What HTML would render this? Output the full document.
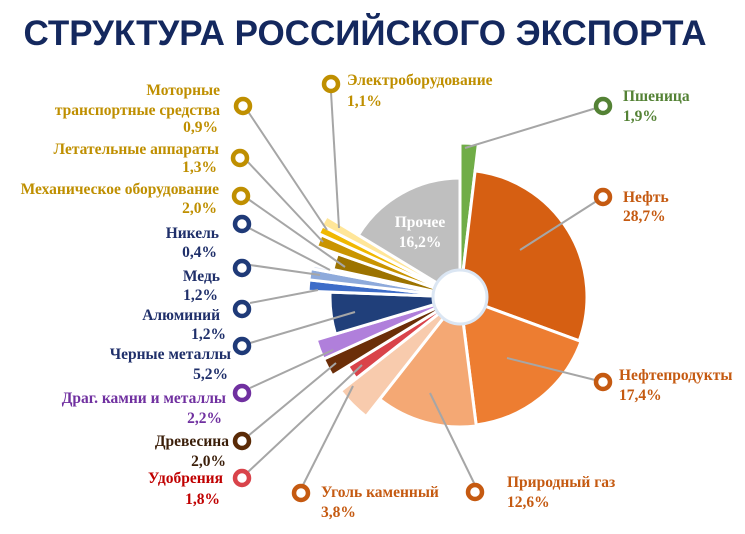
<!DOCTYPE html>
<html><head><meta charset="utf-8"><style>
html,body{margin:0;padding:0;background:#fff;width:745px;height:534px;overflow:hidden}
svg{display:block}
.t{font-family:"Liberation Serif","Noto Serif CJK SC",serif;font-weight:bold;font-size:15.5px}
</style></head><body>
<svg id="s" width="745" height="534" viewBox="0 0 745 534" xmlns="http://www.w3.org/2000/svg">
<text x="365" y="45" text-anchor="middle" font-family="Liberation Sans, sans-serif" font-weight="bold" font-size="35" fill="#14285e">СТРУКТУРА РОССИЙСКОГО ЭКСПОРТА</text>
<g id="pie"></g>
<g id="lines" stroke="#a6a6a6" stroke-width="2" fill="none">
<line x1="603" y1="106" x2="465" y2="148"/>
<line x1="603" y1="197" x2="520" y2="250"/>
<line x1="603" y1="382" x2="507" y2="358"/>
<line x1="475" y1="485" x2="430" y2="393"/>
<line x1="303" y1="485" x2="353" y2="386"/>
<line x1="248" y1="472" x2="362" y2="365"/>
<line x1="248" y1="436" x2="336" y2="363"/>
<line x1="250" y1="388" x2="333" y2="350"/>
<line x1="250" y1="343" x2="355" y2="312"/>
<line x1="250" y1="303" x2="318" y2="290"/>
<line x1="250" y1="265" x2="320" y2="275"/>
<line x1="249" y1="228" x2="330" y2="270"/>
<line x1="248" y1="199" x2="345" y2="267"/>
<line x1="247" y1="161" x2="323" y2="242"/>
<line x1="247" y1="110" x2="327" y2="230"/>
<line x1="331" y1="92" x2="339" y2="228"/>
</g>
<g id="mk" fill="#fff" stroke-width="4.5"></g>
<g class="t">
<text x="420" y="227" text-anchor="middle" fill="#fff">Прочее</text>
<text x="420" y="247" text-anchor="middle" fill="#fff">16,2%</text>
<g fill="#bf8f00" text-anchor="end">
<text x="220" y="95">Моторные</text>
<text x="220" y="115">транспортные средства</text>
<text x="218" y="132">0,9%</text>
<text x="219" y="154">Летательные аппараты</text>
<text x="217" y="172">1,3%</text>
<text x="219" y="194">Механическое оборудование</text>
<text x="217" y="213">2,0%</text>
</g>
<g fill="#1f2f6a" text-anchor="end">
<text x="219" y="238">Никель</text>
<text x="217" y="257">0,4%</text>
<text x="220" y="281">Медь</text>
<text x="218" y="300">1,2%</text>
<text x="220" y="320">Алюминий</text>
<text x="226" y="339">1,2%</text>
<text x="231" y="359">Черные металлы</text>
<text x="228" y="379">5,2%</text>
</g>
<g fill="#7030a0" text-anchor="end"><text x="226" y="403">Драг. камни и металлы</text><text x="222" y="423">2,2%</text></g>
<g fill="#3b1f0a" text-anchor="end"><text x="229" y="446">Древесина</text><text x="226" y="466">2,0%</text></g>
<g fill="#c00000" text-anchor="end"><text x="223" y="483">Удобрения</text><text x="220" y="504">1,8%</text></g>
<g fill="#bf8f00"><text x="347" y="85">Электроборудование</text><text x="347" y="106">1,1%</text></g>
<g fill="#548235"><text x="623" y="101">Пшеница</text><text x="623" y="121">1,9%</text></g>
<g fill="#c55a11">
<text x="623" y="202">Нефть</text><text x="623" y="221">28,7%</text>
<text x="619" y="380">Нефтепродукты</text><text x="619" y="400">17,4%</text>
<text x="507" y="487">Природный газ</text><text x="507" y="507">12,6%</text>
<text x="321" y="497">Уголь каменный</text><text x="321" y="517">3,8%</text>
</g>
</g>
</svg>
<script>
var cx=460,cy=297;
var d=[[1.9,154,"#70ad47"],[28.7,127,"#d65f12"],[17.4,129,"#ed7d31"],[12.6,130,"#f4a874"],[3.8,152,"#f8cbad"],[1.8,132,"#d9434a"],[2.0,150,"#6b2e08"],[2.2,150,"#b07fdb"],[5.2,130,"#203f7a"],[1.2,152,"#3d6cc8"],[1.2,152,"#8eaadb"],[0.4,150,"#dae3f3"],[2.0,130,"#9c7300"],[1.3,152,"#c99400"],[0.9,155,"#f0b800"],[1.1,156,"#ffe699"],[16.3,119,"#bfbfbf"]];
var ns="http://www.w3.org/2000/svg",g=document.getElementById("pie"),a=0;
function p(r,ang){var t=ang*Math.PI/180;return [cx+r*Math.sin(t),cy-r*Math.cos(t)];}
d.forEach(function(s){var sw=s[0]*3.6,a2=a+sw,p1=p(s[1],a),p2=p(s[1],a2);
var e=document.createElementNS(ns,"path");
e.setAttribute("d","M"+cx+","+cy+"L"+p1[0]+","+p1[1]+"A"+s[1]+","+s[1]+" 0 "+(sw>180?1:0)+" 1 "+p2[0]+","+p2[1]+"Z");
e.setAttribute("fill",s[2]);e.setAttribute("stroke","#fff");e.setAttribute("stroke-width","3");g.appendChild(e);a=a2;});
var h=document.createElementNS(ns,"circle");h.setAttribute("cx",cx);h.setAttribute("cy",cy);h.setAttribute("r",27);h.setAttribute("fill","#fff");h.setAttribute("stroke","#dbe6f3");h.setAttribute("stroke-width","3");g.appendChild(h);
var m=[[243,106,"#bf8f00"],[240,158,"#bf8f00"],[241,196,"#bf8f00"],[242,224,"#1f3a78"],[242,268,"#1f3a78"],[242,309,"#1f3a78"],[242,346,"#1f3a78"],[242,393,"#7030a0"],[242,441,"#5a2a06"],[242,478,"#d9434a"],[301,493,"#c55a11"],[475,492,"#c55a11"],[603,382,"#c55a11"],[603,197,"#c55a11"],[603,106,"#548235"],[331,84,"#bf8f00"]];
var mk=document.getElementById("mk");
m.forEach(function(q){var c=document.createElementNS(ns,"circle");c.setAttribute("cx",q[0]);c.setAttribute("cy",q[1]);c.setAttribute("r",7);c.setAttribute("stroke",q[2]);mk.appendChild(c);});
</script>
</body></html>
